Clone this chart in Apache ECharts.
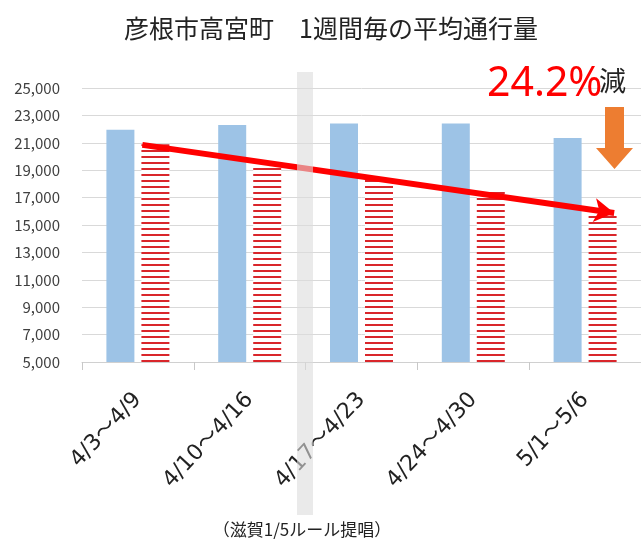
<!DOCTYPE html>
<html><head><meta charset="utf-8">
<script src="https://cdn.jsdelivr.net/npm/echarts@6/dist/echarts.min.js"></script>
<style>html,body{margin:0;padding:0;background:#fff}#c{width:641px;height:541px}</style>
</head><body><div id="c"></div>
<script>
const categories = ['4/3～4/9', '4/10～4/16', '4/17～4/23', '4/24～4/30', '5/1～5/6'];
const seriesBlue = [21950, 22300, 22400, 22400, 21350];
const seriesRed = [20900, 19250, 18450, 17650, 15850];
const trendX = [0.54, 4.76];
const trendY = [20850, 15880];
const yTicks = { min: 5000, max: 25000, interval: 2000 };
const titleText = '彦根市高宮町　1週間毎の平均通行量';
const noteText = '（滋賀1/5ルール提唱）';
const changeText = '24.2%';

function stripes() {
  const c = document.createElement('canvas');
  c.width = 8; c.height = 6;
  const g = c.getContext('2d');
  g.fillStyle = '#ffffff'; g.fillRect(0, 0, 8, 6);
  g.fillStyle = '#d9262b'; g.fillRect(0, 0, 8, 2);
  return c;
}

const chart = echarts.init(document.getElementById('c'));
const F = '"Noto Sans CJK JP","Noto Sans",sans-serif';
chart.setOption({
  animation: false,
  title: { text: titleText, left: 119, top: 11,
    textStyle: { fontFamily: F, fontSize: 25, fontWeight: 'normal', color: '#222' } },
  grid: { left: 82, right: 0, top: 88, bottom: 179 },
  xAxis: [{
    type: 'category', data: categories,
    axisLine: { lineStyle: { color: '#d0d0d0' } },
    axisTick: { show: true, length: 8, lineStyle: { color: '#c8c8c8' } },
    axisLabel: { rotate: 47, fontFamily: '"DejaVu Sans","Noto Sans CJK JP",sans-serif',
      fontSize: 22, color: '#222', margin: 34, interval: 0 }
  }, {
    type: 'value', min: 0, max: 5, show: false
  }],
  yAxis: {
    type: 'value', min: yTicks.min, max: yTicks.max, interval: yTicks.interval,
    axisLine: { show: false }, axisTick: { show: false },
    axisLabel: { fontFamily: F, fontSize: 15, color: '#404040', margin: 22,
      formatter: v => v.toLocaleString('en-US') },
    splitLine: { lineStyle: { color: '#d9d9d9' } }
  },
  series: [{
    type: 'bar', data: seriesBlue, barWidth: 28, barGap: '25%',
    itemStyle: { color: '#9dc3e6' }
  }, {
    type: 'bar', data: seriesRed, barWidth: 28,
    itemStyle: { color: { image: stripes(), repeat: 'repeat' } }
  }, {
    type: 'line', xAxisIndex: 1, data: [[trendX[0], trendY[0]], [trendX[1], trendY[1]]],
    showSymbol: false, lineStyle: { opacity: 0 }, silent: true,
    markLine: {
      silent: true, symbol: ['none', 'arrow'], symbolSize: [18, 20],
      label: { show: false },
      lineStyle: { color: '#ff0000', width: 6, type: 'solid' },
      data: [[{ coord: [trendX[0], trendY[0]] }, { coord: [trendX[1], trendY[1]] }]]
    }
  }],
  graphic: [
    { type: 'rect', shape: { x: 297, y: 72, width: 16, height: 443 }, z: 100,
      style: { fill: 'rgba(220,220,220,0.6)' } },
    { type: 'text', left: 487, top: 64, z: 110,
      style: { text: changeText, fontFamily: '"Noto Sans",sans-serif', fontSize: 41, fill: '#ff0000' } },
    { type: 'text', left: 599, top: 67, z: 110,
      style: { text: '減', fontFamily: F, fontSize: 27, fill: '#222' } },
    { type: 'polygon', z: 110,
      shape: { points: [[605, 107], [624, 107], [624, 148], [633, 148], [614.5, 169], [596, 148], [605, 148]] },
      style: { fill: '#ed7d31' } },
    { type: 'text', z: 110,
      style: { text: noteText, x: 302, y: 530, align: 'center', verticalAlign: 'middle',
        fontFamily: F, fontSize: 17, fill: '#222' } }
  ]
});
</script></body></html>
